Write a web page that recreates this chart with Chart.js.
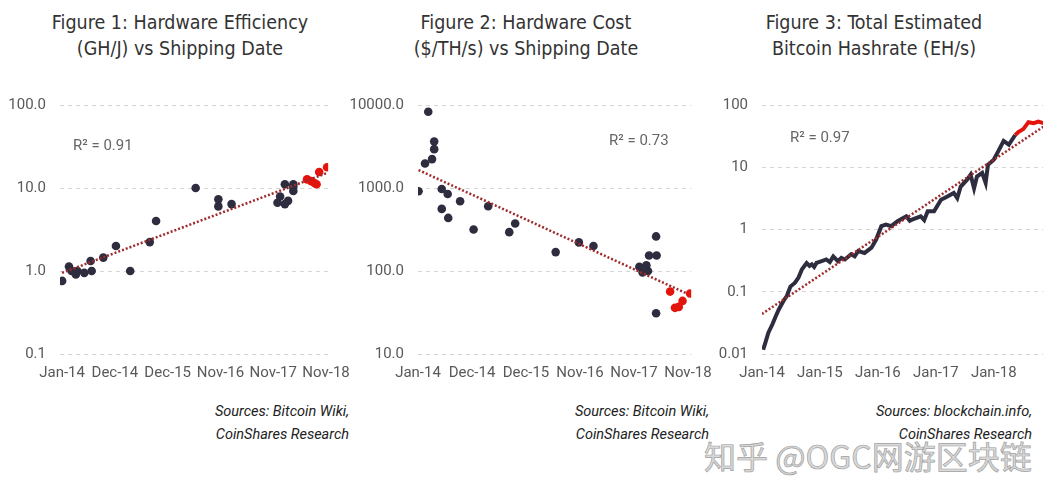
<!DOCTYPE html>
<html>
<head>
<meta charset="utf-8">
<script src="https://cdn.jsdelivr.net/npm/chart.js@4.4.0/dist/chart.umd.min.js"></script>
<style>
  body { margin: 0; width: 1058px; height: 499px; background: #fff; position: relative; overflow: hidden; font-family: Roboto, sans-serif; }
  .title { position: absolute; top: 10px; width: 340px; text-align: center; font-family: "Liberation Sans Narrow", "DejaVu Sans Condensed", sans-serif; font-size: 19.5px; line-height: 26px; color: #333; }
  canvas { position: absolute; }
  .r2 { position: absolute; font-size: 15px; color: #666; }
  .src { position: absolute; top: 400px; width: 300px; text-align: right; font-style: italic; font-size: 14.5px; line-height: 23px; color: #222; }
  .wm { position: absolute; left: 704px; top: 432px; font-family: "Noto Sans CJK SC", sans-serif; font-size: 32px; color: #d9d9d9; -webkit-text-stroke: 0.7px #a0a0a0; white-space: nowrap; }
</style>
</head>
<body>
<div class="title" style="left:10px">Figure 1: Hardware Efficiency<br>(GH/J) vs Shipping Date</div>
<div class="title" style="left:356px">Figure 2: Hardware Cost<br>($/TH/s) vs Shipping Date</div>
<div class="title" style="left:704px">Figure 3: Total Estimated<br>Bitcoin Hashrate (EH/s)</div>

<canvas id="fig1" width="360" height="300" style="left:0px;top:90px"></canvas>
<canvas id="fig2" width="382" height="300" style="left:340px;top:90px"></canvas>
<canvas id="fig3" width="358" height="300" style="left:700px;top:90px"></canvas>

<div class="r2" style="left:73px;top:136px">R² = 0.91</div>
<div class="r2" style="left:609px;top:131px">R² = 0.73</div>
<div class="r2" style="left:790px;top:128px">R² = 0.97</div>

<div class="src" style="left:49px">Sources: Bitcoin Wiki,<br>CoinShares Research</div>
<div class="src" style="left:409px">Sources: Bitcoin Wiki,<br>CoinShares Research</div>
<div class="src" style="left:732px">Sources: blockchain.info,<br>CoinShares Research</div>

<div class="wm">知乎 @OGC网游区块链</div>

<script>
// ---- Figure 1: efficiency (GH/J), x = years since Jan-14 ----
const fig1XTicks = [0, 1, 2, 3, 4, 5];
const fig1XLabels = ["Jan-14", "Dec-14", "Dec-15", "Nov-16", "Nov-17", "Nov-18"];
const fig1YTicks = [0.1, 1, 10, 100];
const fig1YLabels = ["0.1", "1.0", "10.0", "100.0"];
const fig1DarkX = [0, 0.13, 0.18, 0.26, 0.29, 0.42, 0.56, 0.54, 0.78, 1.02, 1.29, 1.66, 1.78, 2.53, 2.96, 2.96, 3.21, 4.08, 4.13, 4.22, 4.28, 4.22, 4.38, 4.38, 4.38];
const fig1DarkY = [0.76, 1.13, 1.0, 0.91, 1.0, 0.95, 1.0, 1.32, 1.45, 2.0, 1.0, 2.23, 4.0, 10.0, 7.3, 6.0, 6.4, 6.65, 7.9, 6.4, 7.0, 11.1, 11.1, 9.2, 10.3];
const fig1RedX = [4.64, 4.72, 4.78, 4.82, 4.87, 5.02];
const fig1RedY = [12.7, 12.1, 11.5, 11.1, 15.6, 17.8];
const fig1TrendX = [0, 5.0];
const fig1TrendY = [0.95, 15];

// ---- Figure 2: cost ($/TH/s) ----
const fig2XTicks = [0, 1, 2, 3, 4, 5];
const fig2XLabels = ["Jan-14", "Dec-14", "Dec-15", "Nov-16", "Nov-17", "Nov-18"];
const fig2YTicks = [10, 100, 1000, 10000];
const fig2YLabels = ["10.0", "100.0", "1000.0", "10000.0"];
const fig2DarkX = [0.01, 0.13, 0.19, 0.26, 0.30, 0.30, 0.44, 0.55, 0.44, 0.56, 0.78, 1.03, 1.30, 1.69, 1.80, 2.55, 2.98, 3.25, 4.10, 4.16, 4.23, 4.26, 4.28, 4.42, 4.41, 4.41];
const fig2DarkY = [912, 1977, 8300, 2228, 2938, 3630, 973, 847, 560, 436, 692, 316, 603, 294, 373, 169, 221, 200, 112, 96, 117, 100, 154, 154, 261, 31];
const fig2RedX = [4.67, 4.76, 4.83, 4.90, 5.04];
const fig2RedY = [56.5, 36, 37, 43.6, 53.5];
const fig2TrendX = [0.01, 4.98];
const fig2TrendY = [1645, 53.5];

// ---- Figure 3: hashrate (EH/s) ----
const fig3XTicks = [0, 1, 2, 3, 4];
const fig3XLabels = ["Jan-14", "Jan-15", "Jan-16", "Jan-17", "Jan-18"];
const fig3YTicks = [0.01, 0.1, 1, 10, 100];
const fig3YLabels = ["0.01", "0.1", "1", "10", "100"];
const fig3DarkX = [0.02, 0.06, 0.11, 0.18, 0.23, 0.29, 0.37, 0.43, 0.49, 0.57, 0.63, 0.69, 0.77, 0.82, 0.86, 0.90, 0.94, 1.03, 1.11, 1.17, 1.23, 1.31, 1.37, 1.43, 1.54, 1.60, 1.66, 1.77, 1.89, 1.97, 2.06, 2.14, 2.23, 2.34, 2.49, 2.55, 2.60, 2.74, 2.80, 2.86, 2.97, 3.09, 3.20, 3.31, 3.37, 3.43, 3.54, 3.60, 3.66, 3.71, 3.80, 3.86, 3.90, 4.00, 4.09, 4.17, 4.26, 4.37];
const fig3DarkY = [0.0117, 0.0154, 0.022, 0.030, 0.039, 0.052, 0.071, 0.086, 0.121, 0.14, 0.169, 0.23, 0.29, 0.26, 0.275, 0.25, 0.29, 0.31, 0.33, 0.30, 0.37, 0.31, 0.35, 0.33, 0.40, 0.37, 0.45, 0.42, 0.51, 0.69, 1.13, 1.2, 1.13, 1.36, 1.63, 1.38, 1.45, 1.63, 1.42, 1.96, 1.96, 3.0, 3.4, 3.86, 3.2, 4.9, 6.3, 7.6, 4.6, 7.1, 8.1, 5.6, 11, 13.2, 19, 26.5, 23, 33];
const fig3RedX = [4.37, 4.43, 4.51, 4.60, 4.69, 4.77, 4.86];
const fig3RedY = [33, 37, 41, 53, 51, 54, 51];
const fig3TrendX = [0, 4.86];
const fig3TrendY = [0.044, 45];

const DARK = "#2e2d3f";
const RED = "#e3140c";
const TREND = "#9e2a2b";
const TICK_COLOR = "#595959";

function zip(xs, ys) {
  return xs.map((x, i) => ({ x: x, y: ys[i] }));
}

function buildChart(id, cfg) {
  const datasets = [
    {
      data: zip(cfg.trendX, cfg.trendY),
      showLine: true,
      borderColor: TREND,
      borderWidth: 2.5,
      borderDash: [2, 2],
      pointRadius: 0,
      order: 0,
    },
  ];
  if (cfg.asLine) {
    datasets.push({ data: zip(cfg.redX, cfg.redY), showLine: true, borderColor: RED, borderWidth: 4, pointRadius: 0, order: 1 });
    datasets.push({ data: zip(cfg.darkX, cfg.darkY), showLine: true, borderColor: DARK, borderWidth: 4, pointRadius: 0, order: 2 });
  } else {
    datasets.push({ data: zip(cfg.redX, cfg.redY), backgroundColor: RED, borderWidth: 0, pointRadius: 4.3, order: 1 });
    datasets.push({ data: zip(cfg.darkX, cfg.darkY), backgroundColor: DARK, borderWidth: 0, pointRadius: 4.3, order: 2 });
  }

  return new Chart(document.getElementById(id), {
    type: "scatter",
    data: { datasets: datasets },
    options: {
      responsive: false,
      animation: false,
      devicePixelRatio: 1,
      layout: { padding: { top: 15, right: cfg.padRight, bottom: 0, left: 0 } },
      plugins: { legend: { display: false }, tooltip: { enabled: false } },
      scales: {
        x: {
          type: "linear",
          min: cfg.xMin,
          max: cfg.xMax,
          grid: { display: false, drawTicks: false },
          border: { display: false },
          afterBuildTicks: (s) => { s.ticks = cfg.xTicks.map((v) => ({ value: v })); },
          afterFit: (s) => { s.height = 36; },
          ticks: {
            padding: 10,
            color: TICK_COLOR,
            font: { family: "Roboto", size: 15 },
            maxRotation: 0,
            autoSkip: false,
            callback: (v, i) => cfg.xLabels[i],
          },
        },
        y: {
          type: "logarithmic",
          min: cfg.yTicks[0],
          max: cfg.yTicks[cfg.yTicks.length - 1],
          grid: { color: "#d6d6d6", lineWidth: 1, drawTicks: false },
          border: { display: false, dash: [4, 4] },
          afterBuildTicks: (s) => { s.ticks = cfg.yTicks.map((v) => ({ value: v })); },
          afterFit: (s) => {
            s.width = cfg.yWidth;
            s.paddingTop = 0;
            s.paddingBottom = 0;
          },
          ticks: {
            padding: 14,
            color: TICK_COLOR,
            font: { family: "Roboto", size: 15 },
            autoSkip: false,
            callback: (v, i) => cfg.yLabels[i],
          },
        },
      },
    },
  });
}

buildChart("fig1", {
  darkX: fig1DarkX, darkY: fig1DarkY, redX: fig1RedX, redY: fig1RedY,
  trendX: fig1TrendX, trendY: fig1TrendY,
  xTicks: fig1XTicks, xLabels: fig1XLabels, yTicks: fig1YTicks, yLabels: fig1YLabels,
  xMin: -0.04, xMax: 5.04, yWidth: 60, padRight: 30,
});

buildChart("fig2", {
  darkX: fig2DarkX, darkY: fig2DarkY, redX: fig2RedX, redY: fig2RedY,
  trendX: fig2TrendX, trendY: fig2TrendY,
  xTicks: fig2XTicks, xLabels: fig2XLabels, yTicks: fig2YTicks, yLabels: fig2YLabels,
  xMin: 0, xMax: 5.06, yWidth: 78, padRight: 30,
});

buildChart("fig3", {
  asLine: true,
  darkX: fig3DarkX, darkY: fig3DarkY, redX: fig3RedX, redY: fig3RedY,
  trendX: fig3TrendX, trendY: fig3TrendY,
  xTicks: fig3XTicks, xLabels: fig3XLabels, yTicks: fig3YTicks, yLabels: fig3YLabels,
  xMin: 0, xMax: 4.85, yWidth: 62, padRight: 15,
});
</script>
</body>
</html>
